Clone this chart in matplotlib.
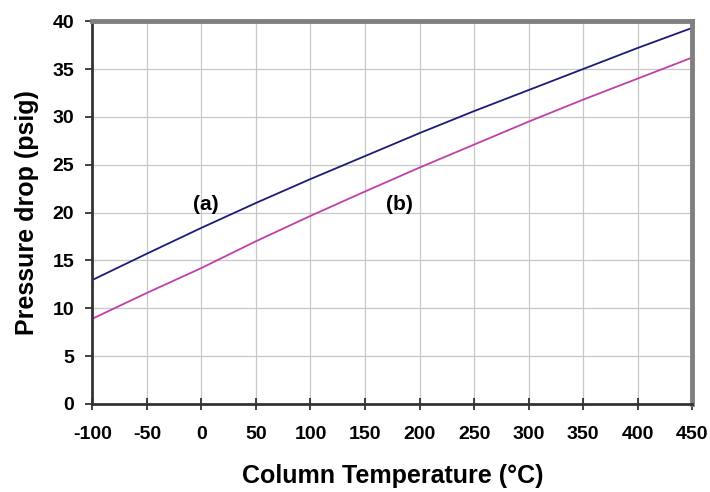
import matplotlib.pyplot as plt

# values
temp = [-100, -50, 0, 50, 100, 150, 200, 250, 300, 350, 400, 450]
drop_a = [12.95, 15.7, 18.4, 21.0, 23.5, 25.9, 28.3, 30.6, 32.8, 35.0, 37.2, 39.3]
drop_b = [8.9, 11.6, 14.2, 17.0, 19.65, 22.2, 24.7, 27.1, 29.5, 31.8, 34.0, 36.2]
xticks = list(range(-100, 451, 50))
yticks = list(range(0, 41, 5))

plt.rcParams['font.family'] = ['Liberation Sans', 'DejaVu Sans']
plt.rcParams['axes.unicode_minus'] = False

fig = plt.figure(figsize=(7.1, 4.92), dpi=100)
ax = fig.add_axes([0.130, 0.179, 0.845, 0.778])

ax.plot(temp, drop_a, color='#1c1c78', lw=1.3)
ax.plot(temp, drop_b, color='#c040a8', lw=1.3)

ax.text(4, 20.8, '(a)', fontsize=15, fontweight='bold', ha='center', va='center')
ax.text(182, 20.8, '(b)', fontsize=15, fontweight='bold', ha='center', va='center')

ax.set_xlim(-100, 450)
ax.set_ylim(0, 40)
ax.set_xticks(xticks)
ax.set_yticks(yticks)
ax.grid(True, color='#c8c8c8', lw=0.9)
ax.set_axisbelow(True)

for s in ['left', 'bottom']:
    ax.spines[s].set_color('#333333')
    ax.spines[s].set_linewidth(2)
for s in ['top', 'right']:
    ax.spines[s].set_color('#808080')
    ax.spines[s].set_linewidth(3.5)

ax.tick_params(axis='x', direction='inout', length=8, width=1.2, color='#222222',
               labelsize=14, pad=12)
ax.tick_params(axis='y', direction='out', length=5, width=1.2, color='#222222',
               labelsize=14, pad=8)
for lab in ax.get_xticklabels() + ax.get_yticklabels():
    lab.set_fontweight('bold')

ax.set_xlabel('Column Temperature (°C)', fontsize=18, fontweight='bold', labelpad=15)
ax.set_ylabel('Pressure drop (psig)', fontsize=18, fontweight='bold', labelpad=10)

fig.savefig('out.png', dpi=100)
